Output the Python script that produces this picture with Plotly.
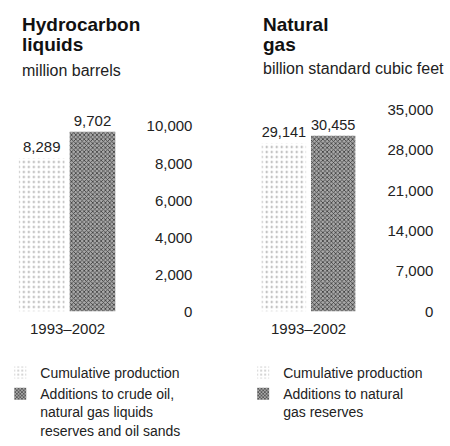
import plotly.graph_objects as go

# ---- data ----
hc_categories = ["Cumulative production", "Additions to crude oil,<br>natural gas liquids<br>reserves and oil sands"]
hc_values = [8289, 9702]
hc_ticks = [0, 2000, 4000, 6000, 8000, 10000]

gas_categories = ["Cumulative production", "Additions to natural<br>gas reserves"]
gas_values = [29141, 30455]
gas_ticks = [0, 7000, 14000, 21000, 28000, 35000]

period_label = "1993–2002"

W, H = 450, 446
FONT = "Liberation Sans"

def px(x):
    return x / W

def py(y):
    return 1 - y / H

light = dict(color="white", line=dict(width=0),
             pattern=dict(shape=".", fgcolor="#9a9a9a", bgcolor="white", size=5, solidity=0.12, fillmode="replace"))
dark = dict(color="#8c8c8c", line=dict(width=0),
            pattern=dict(shape="x", fgcolor="#3c3c3c", bgcolor="#a8a8a8", size=3, solidity=0.45, fillmode="replace"))

fig = go.Figure()
styles = [light, dark]
for i, (c, v) in enumerate(zip(hc_categories, hc_values)):
    fig.add_trace(go.Bar(x=[c], y=[v], name=c, marker=styles[i], xaxis="x", yaxis="y",
                         texttemplate="%{y:,.0f}", textposition="outside", cliponaxis=False,
                         textfont=dict(size=15, color="#222", family=FONT), legend="legend",
                         hoverinfo="skip"))
for i, (c, v) in enumerate(zip(gas_categories, gas_values)):
    fig.add_trace(go.Bar(x=[c], y=[v], name=c, marker=styles[i], xaxis="x2", yaxis="y2",
                         texttemplate="%{y:,.0f}", textposition="outside", cliponaxis=False,
                         textfont=dict(size=15, color="#222", family=FONT), legend="legend2",
                         hoverinfo="skip"))

ydom = [py(325), py(108)]
hc_max = 10000 * 217 / (325 - 126)

fig.update_layout(
    width=W, height=H, margin=dict(l=0, r=0, t=0, b=0),
    paper_bgcolor="white", plot_bgcolor="white",
    font=dict(family=FONT, size=15, color="#222"),
    bargap=0.1, showlegend=True,
    xaxis=dict(domain=[px(5.5), px(109.5)], visible=False, fixedrange=True),
    xaxis2=dict(domain=[px(254.5), px(355.5)], visible=False, fixedrange=True),
    yaxis=dict(domain=ydom, range=[0, hc_max], anchor="free", position=px(186), side="left",
               tickvals=hc_ticks, tickformat=",.0f", showgrid=False, zeroline=False, showline=False,
               ticks="", tickfont=dict(size=15, family=FONT, color="#222")),
    yaxis2=dict(domain=ydom, range=[0, 35000], anchor="free", position=px(433), side="left",
                tickvals=gas_ticks, tickformat=",.0f", showgrid=False, zeroline=False, showline=False,
                ticks="", tickfont=dict(size=15, family=FONT, color="#222")),
    legend=dict(x=px(-11), y=py(374), xanchor="left", yanchor="top", bgcolor="rgba(0,0,0,0)",
                font=dict(size=14, family=FONT, color="#222"), tracegroupgap=0, valign="top",
                itemwidth=30),
    legend2=dict(x=px(238), y=py(374), xanchor="left", yanchor="top", bgcolor="rgba(0,0,0,0)",
                 font=dict(size=14, family=FONT, color="#222"), tracegroupgap=0, valign="top",
                 itemwidth=30),
)

ann = []
def text_ann(text, x, y, size, bold=False, xref="paper"):
    return dict(text=f"<b>{text}</b>" if bold else text, x=x, y=py(y), xref=xref, yref="paper",
                xanchor="left", yanchor="middle", align="left", showarrow=False,
                font=dict(size=size, family=FONT, color="#111" if bold else "#222"))

ann.append(text_ann("Hydrocarbon", px(9), 17, 19, bold=True))
ann.append(text_ann("liquids", px(9), 38, 19, bold=True))
ann.append(text_ann("million barrels", px(9), 66, 16))
ann.append(text_ann("Natural", px(256), 17, 19, bold=True))
ann.append(text_ann("gas", px(256), 38, 19, bold=True))
ann.append(text_ann("billion standard cubic feet", px(256), 64, 16))
for xr in ["x domain", "x2 domain"]:
    ann.append(dict(text=period_label, x=0.5, y=py(343), xref=xr, yref="paper",
                    xanchor="center", yanchor="middle", showarrow=False,
                    font=dict(size=15, family=FONT, color="#222")))
fig.update_layout(annotations=ann)

fig.write_html("out.html")
